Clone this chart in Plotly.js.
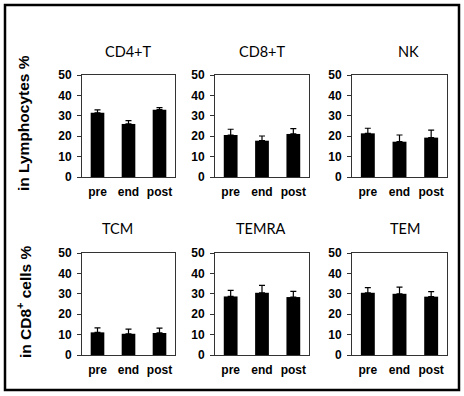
<!DOCTYPE html>
<html>
<head>
<meta charset="utf-8">
<script src="https://cdn.plot.ly/plotly-3.0.1.min.js"></script>
<style>html,body{margin:0;padding:0;background:#fff;}#chart{width:464px;height:396px;}</style>
</head>
<body>
<div id="chart"></div>
<script>
// Data
const categories = ["pre", "end", "post"];
const panelTitles = ["CD4+T", "CD8+T", "NK", "TCM", "TEMRA", "TEM"];
const cd4T = [31.5, 26.0, 33.0];
const cd4TErr = [1.4, 1.6, 1.0];
const cd8T = [20.6, 17.8, 21.1];
const cd8TErr = [2.8, 2.3, 2.6];
const nk = [21.4, 17.3, 19.3];
const nkErr = [2.5, 3.3, 3.7];
const tcm = [11.1, 10.4, 10.8];
const tcmErr = [2.2, 2.3, 2.4];
const temra = [28.7, 30.5, 28.4];
const temraErr = [3.0, 3.6, 2.8];
const tem = [30.5, 30.0, 28.6];
const temErr = [2.5, 3.3, 2.5];
const yTickVals = [0, 10, 20, 30, 40, 50];
const rowTitles = ["in Lymphocytes %", "in CD8<sup>+</sup> cells %"];

const seriesList = [cd4T, cd8T, nk, tcm, temra, tem];
const errList = [cd4TErr, cd8TErr, nkErr, tcmErr, temraErr, temErr];

const W = 464, H = 396;
// panel boxes in px
const colX = [[82, 175], [215, 309], [352, 447]];
const rowY = [[75, 177], [253, 355]];
const titleX = [128, 262, 408, 117, 260, 405];
const titleY = [52, 228];

const tickFont = {family: "Liberation Sans, Arial", size: 12, color: "#000", weight: "bold"};

const traces = [];
const layout = {
  width: W, height: H,
  margin: {l: 0, r: 0, t: 0, b: 0},
  paper_bgcolor: "#fff", plot_bgcolor: "#fff",
  showlegend: false,
  annotations: [],
  shapes: [{
    type: "rect", xref: "paper", yref: "paper",
    x0: 5 / W, x1: 459 / W, y0: 1 - 390 / H, y1: 1 - 5 / H,
    line: {color: "#000", width: 2.5}
  }]
};

for (let i = 0; i < 6; i++) {
  const r = Math.floor(i / 3), c = i % 3;
  const n = i === 0 ? "" : String(i + 1);
  traces.push({
    type: "bar",
    x: categories,
    y: seriesList[i],
    xaxis: "x" + n, yaxis: "y" + n,
    marker: {color: "#000", line: {width: 0}},
    width: 0.44,
    error_y: {type: "data", symmetric: false, array: errList[i],
      arrayminus: errList[i].map(() => 0), color: "#000", thickness: 1.2, width: 3},
    hoverinfo: "skip"
  });
  const xd = [colX[c][0] / W, colX[c][1] / W];
  const yd = [1 - rowY[r][1] / H, 1 - rowY[r][0] / H];
  layout["xaxis" + n] = {
    domain: xd, anchor: "y" + n, type: "category",
    range: [-0.5, 2.5], showline: true, linecolor: "#333", linewidth: 1,
    mirror: true, ticks: "", showgrid: false, zeroline: false,
    tickfont: tickFont, ticklabelstandoff: 4, fixedrange: true
  };
  layout["yaxis" + n] = {
    domain: yd, anchor: "x" + n,
    range: [0, 50], tickvals: yTickVals, showline: true, linecolor: "#333", linewidth: 1,
    mirror: true, ticks: "outside", ticklen: 4, tickcolor: "#333", showgrid: false, zeroline: false,
    tickfont: tickFont, ticklabelstandoff: 3, fixedrange: true
  };
  layout.annotations.push({
    text: panelTitles[i], xref: "paper", yref: "paper",
    x: titleX[i] / W, y: 1 - titleY[r] / H, showarrow: false,
    xanchor: "center", yanchor: "middle",
    font: {family: "Lato, Open Sans, sans-serif", size: 14.5, color: "#000"}
  });
}
layout.annotations.push({
  text: rowTitles[0], xref: "paper", yref: "paper", x: 24 / W, y: 1 - 123 / H,
  textangle: -90, showarrow: false, xanchor: "center", yanchor: "middle",
  font: {family: "Liberation Sans, Arial", size: 15.5, color: "#000", weight: "bold"}
});
layout.annotations.push({
  text: rowTitles[1], xref: "paper", yref: "paper", x: 24 / W, y: 1 - 302 / H,
  textangle: -90, showarrow: false, xanchor: "center", yanchor: "middle",
  font: {family: "Liberation Sans, Arial", size: 15.5, color: "#000", weight: "bold"}
});

Plotly.newPlot("chart", traces, layout, {staticPlot: true, displayModeBar: false});
</script>
</body>
</html>
